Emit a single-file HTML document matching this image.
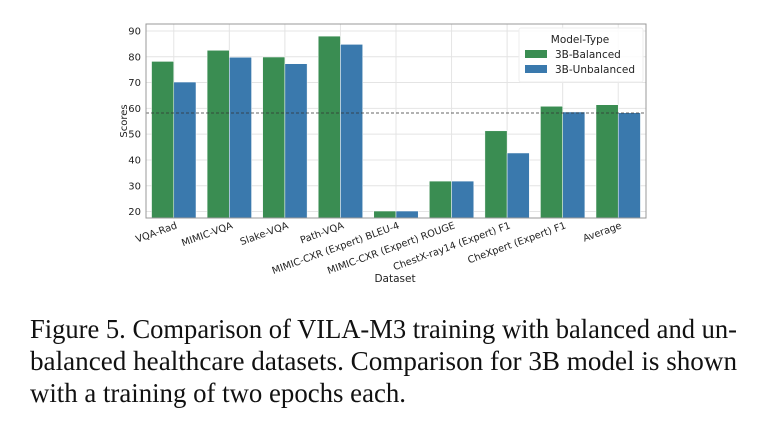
<!DOCTYPE html>
<html><head><meta charset="utf-8"><style>
html,body{margin:0;padding:0;background:#fff;}
svg{display:block;font-family:"DejaVu Sans","Liberation Sans",sans-serif;}
.cap{font-family:"Liberation Serif",serif;font-size:27px;fill:#111;}
</style></head><body>
<svg id="chart" width="760" height="437" viewBox="0 0 760 437">
<g id="grid"></g>
<g id="bars"></g>
<g id="axes"></g>
<text x="127" y="121" transform="rotate(-90 127 121)" font-size="10" text-anchor="middle" fill="#222">Scores</text>
<text x="395" y="282" font-size="10.5" text-anchor="middle" fill="#222">Dataset</text>
<g>
<rect x="519" y="28" width="124" height="54" fill="#fff" fill-opacity="0.85" stroke="#eee" rx="2"/>
<text x="580" y="43" font-size="10.5" text-anchor="middle" fill="#222">Model-Type</text>
<rect x="525" y="50" width="22" height="8" fill="#3a8d52"/>
<text x="555" y="58" font-size="10.5" fill="#222">3B-Balanced</text>
<rect x="525" y="65" width="22" height="8" fill="#3a79ad"/>
<text x="555" y="73" font-size="10.5" fill="#222">3B-Unbalanced</text>
</g>
<text class="cap" x="30" y="338" textLength="707" lengthAdjust="spacingAndGlyphs">Figure 5. Comparison of VILA-M3 training with balanced and un-</text>
<text class="cap" x="30" y="370" textLength="707" lengthAdjust="spacingAndGlyphs">balanced healthcare datasets. Comparison for 3B model is shown</text>
<text class="cap" x="30" y="402" textLength="376" lengthAdjust="spacingAndGlyphs">with a training of two epochs each.</text>
</svg>
<script>
const categories=["VQA-Rad","MIMIC-VQA","Slake-VQA","Path-VQA","MIMIC-CXR (Expert) BLEU-4","MIMIC-CXR (Expert) ROUGE","ChestX-ray14 (Expert) F1","CheXpert (Expert) F1","Average"];
const balanced=[78.2,82.5,79.9,88.0,20.2,31.8,51.3,60.8,61.4];
const unbalanced=[70.2,79.8,77.3,84.8,20.2,31.8,42.7,58.6,58.3];
const yTicks=[20,30,40,50,60,70,80,90];
const refLine=58.2;

const NS="http://www.w3.org/2000/svg";
const L=146,R=646,T=24,B=218,vMin=17.5,vMax=92.7;
function y(v){return B-(v-vMin)/(vMax-vMin)*(B-T);}
const band=(R-L)/categories.length;
function xc(i){return L+band*(i+0.5);}
function mk(tag,attrs,parent){const e=document.createElementNS(NS,tag);for(const k in attrs)e.setAttribute(k,attrs[k]);parent.appendChild(e);return e;}
const grid=document.getElementById('grid'),bars=document.getElementById('bars'),axes=document.getElementById('axes');
mk('rect',{x:L,y:T,width:R-L,height:B-T,fill:'#fff'},grid);
yTicks.forEach(t=>{
 const g=mk('line',{x1:L,x2:R,y1:y(t),y2:y(t),stroke:'#e4e4e4','stroke-width':1},grid);
 
 
 const tx=mk('text',{x:L-5,y:y(t)+3.5,'font-size':10,'text-anchor':'end',fill:'#222'},axes);
 tx.textContent=t;
 
 
});
categories.forEach((c,i)=>{
 const gl=mk('line',{x1:xc(i),x2:xc(i),y1:T,y2:B,stroke:'#e4e4e4','stroke-width':1},grid);
 
 
 const w=band*0.4;
 const b1=mk('rect',{x:xc(i)-w,y:y(balanced[i]),width:w,height:B-y(balanced[i]),fill:'#3a8d52',stroke:'#fff','stroke-width':0.5},bars);
 
 
 const b2=mk('rect',{x:xc(i),y:y(unbalanced[i]),width:w,height:B-y(unbalanced[i]),fill:'#3a79ad',stroke:'#fff','stroke-width':0.5},bars);
 
 
 const lx=xc(i)+4,ly=B+10;
 const tx=mk('text',{x:lx,y:ly,'font-size':9.8,'text-anchor':'end',fill:'#222',transform:`rotate(-20 ${lx} ${ly})`},axes);
 tx.textContent=c;
 
 
});
const d=mk('line',{x1:L,x2:R,y1:y(refLine),y2:y(refLine),stroke:'#333','stroke-width':0.8,'stroke-dasharray':'3,2'},axes);


const fr=mk('rect',{x:L,y:T,width:R-L,height:B-T,fill:'none',stroke:'#999','stroke-width':1},axes);


</script>
</body></html>
